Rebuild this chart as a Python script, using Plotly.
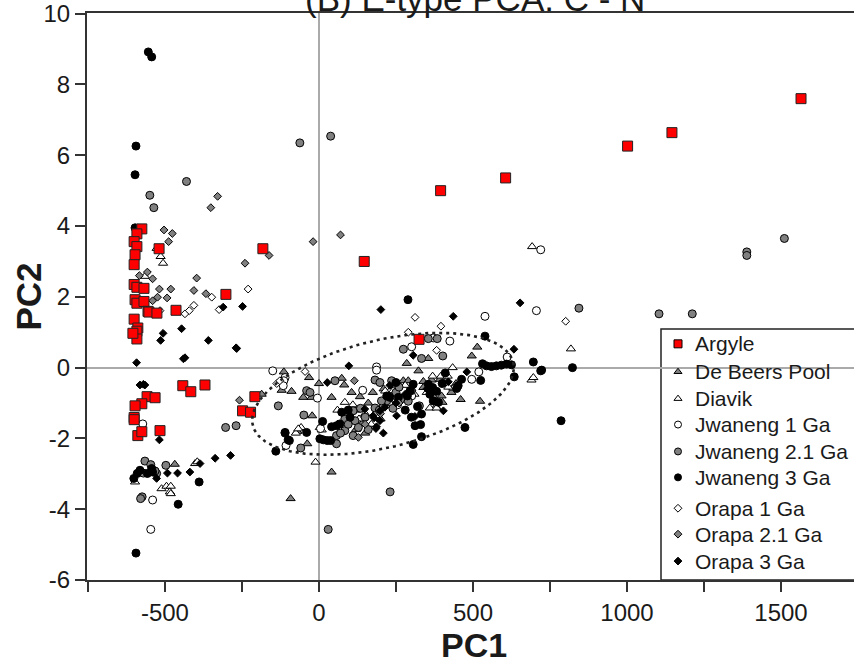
import numpy as np
import plotly.graph_objects as go

# ---------------- data (PC1, PC2) ----------------
ARGYLE = [(-575,3.92),(-591,3.78),(-600,3.56),(-591,3.42),(-597,3.19),(-600,2.91),(-519,3.36),(-182,3.36),
          (-600,2.35),(-591,2.27),(-568,2.24),(-597,1.92),(-591,1.82),(-568,1.87),(-555,1.59),(-552,1.57),
          (-526,1.54),(-464,1.62),(-302,2.07),(-600,1.37),(-588,1.12),(-591,1.03),(-591,0.81),(-604,0.97),
          (-442,-0.51),(-416,-0.68),(-370,-0.49),(-208,-0.82),(-248,-1.22),(-222,-1.26),(-558,-0.82),
          (-532,-0.85),(-575,-1.02),(-597,-1.08),(-600,-1.41),(-600,-1.47),(-588,-1.92),(-575,-1.81),
          (-516,-1.78),(147,3.0),(395,5.0),(606,5.36),(1002,6.26),(1146,6.64),(1565,7.6),(325,0.8)]
DE_BEERS = [(-468,-2.73),(-186,-0.75),(-92,-3.7),(41,-2.95),(514,0.58),(-114,-0.12),(-32,-0.28),(-121,-0.64),
            (-89,-0.67),(0,-0.45),(74,-0.3),(82,-0.49),(41,-0.84),(-51,-0.84),(-24,-0.84),(-22,-1.36),(-38,-2.15),
            (106,-0.7),(133,-0.82),(139,-1.59),(323,-0.09),(355,0.26),(496,0.33),(285,0.12),(523,-0.95),(274,-0.37),
            (290,-0.37),(339,-0.39),(366,-0.35),(393,-0.33),(415,-0.35),(339,-0.56),(371,-0.8),(398,-0.8),(401,-0.98),
            (95,-1.3),(120,-1.2),(160,-1.0),(175,-0.7),(210,-0.6),(240,-0.55),(260,-0.85),(200,-1.45),(150,-1.85),
            (230,-0.95),(300,-0.6),(430,-0.7),(445,-0.45),(460,-0.9),(380,-1.1),(120,-1.75),(60,-1.6),(-70,-1.8),
            (-116,-0.3)]
DIAVIK = [(-527,3.37),(-514,3.14),(-506,2.95),(-565,2.58),(692,3.42),(818,0.53),(690,-0.35),(696,-0.28),(434,0.0),
          (436,-0.58),(-597,-3.23),(-402,-2.71),(-395,-2.66),(-511,-3.42),(-495,-3.35),(-481,-3.35),(-484,-3.51),
          (-481,-3.56),(-11,-2.67),(-58,-1.69),(-75,-1.85),(3,-1.69),(84,-0.98),(230,-0.66),(215,-0.66),(241,-0.65),
          (230,-1.01),(369,-0.24),(396,-0.24),(418,-0.24),(360,-1.14),(382,-1.14),(-67,-1.73),(130,-1.45),(150,-1.3),
          (170,-1.6),(110,-1.05),(280,-0.5),(310,-0.75),(420,-0.55),(350,-0.7),(60,-1.2),(9,-1.76)]
JWANENG_1 = [(706,1.61),(720,3.33),(539,1.45),(371,0.84),(425,0.75),(301,0.59),(611,0.3),(519,-0.12),(496,-0.33),
             (187,0.02),(187,-0.07),(-150,-0.09),(-110,-0.28),(-114,-0.37),(-116,-0.51),(-5,-0.86),(142,-0.64),
             (5,-1.72),(-107,-2.2),(-572,-1.59),(-540,-3.74),(-546,-4.57),(301,-0.8),(255,-1.05)]
JWANENG_21 = [(-62,6.35),(38,6.54),(-430,5.26),(-549,4.87),(-536,4.52),(1389,3.27),(1389,3.17),(1511,3.65),(844,1.68),
              (1104,1.52),(1212,1.52),(355,0.82),(384,0.82),(274,0.52),(402,0.33),(333,0.26),(52,-0.37),(182,-0.35),
              (198,-0.42),(-40,-0.65),(-29,-0.7),(-132,-1.08),(-49,-1.34),(-269,-1.64),(-303,-1.69),(-110,-1.85),
              (-59,-2.27),(57,-1.92),(57,-2.15),(84,-1.45),(84,-1.78),(111,-1.22),(117,-1.5),(128,-1.69),(111,-1.92),
              (182,-1.14),(196,-1.2),(209,-1.08),(220,-0.94),(203,-0.94),(236,-0.37),(326,-1.08),(231,-3.51),(30,-4.57),
              (-565,-2.64),(-546,-2.74),(-583,-2.95),(-570,-2.98),(-527,-2.99),(-532,-2.92),(-497,-2.76),(-574,-3.65),
              (-579,-3.7),(250,-0.7),(265,-0.9),(240,-1.15),(150,-1.4),(160,-1.75),(95,-1.6),(70,-1.85),(135,-1.15),
              (290,-0.95),(300,-0.65),(260,-0.55)]
JWANENG_3 = [(-554,8.92),(-543,8.78),(-594,6.26),(-597,5.45),(-597,3.95),(289,1.92),(539,0.89),(531,0.11),(544,0.05),
             (560,0.03),(576,0.05),(592,0.07),(609,0.1),(625,0.08),(696,0.16),(720,-0.09),(823,0.0),(723,-0.07),
             (786,-1.5),(525,-0.36),(463,-0.33),(452,-0.51),(447,-0.59),(634,-0.26),(474,-1.69),(333,-1.95),(312,-1.64),
             (330,-1.61),(306,-2.17),(250,-0.42),(220,-0.8),(230,-0.84),(306,-0.47),(296,-0.65),(287,-0.8),(355,-0.47),
             (369,-0.56),(360,-0.75),(382,-0.67),(371,-0.94),(388,-0.98),(333,-1.31),(258,-0.84),(12,-1.52),(41,-1.67),
             (57,-1.64),(68,-1.59),(74,-1.26),(95,-1.2),(101,-1.4),(3,-2.01),(14,-2.04),(27,-2.06),(38,-2.06),
             (-40,-1.83),(-96,-2.06),(-100,-2.04),(-140,-2.36),(-110,-1.83),(-581,-2.9),(-590,-2.99),(-601,-3.13),
             (-557,-2.99),(-540,-2.95),(-543,-2.85),(-389,-3.23),(-457,-3.86),(-594,-5.24),(400,-0.45),(410,-0.15),
             (280,-1.2),(300,-1.4),(320,-1.1)]
ORAPA_1 = [(-348,1.99),(-230,2.22),(-516,1.61),(-435,1.52),(-421,1.61),(-406,1.76),(-324,1.64),(801,1.31),(312,1.42),
           (396,1.17),(290,1.0),(382,0.49),(-137,-0.45),(-127,-0.37),(-45,-0.11)]
ORAPA_21 = [(-19,3.56),(70,3.75),(-329,4.84),(-351,4.52),(-503,3.89),(-476,3.79),(-488,3.56),(-162,3.17),(-240,2.95),
            (-583,2.6),(-557,2.7),(-540,2.51),(-397,2.53),(-518,2.22),(-481,2.22),(-524,1.99),(-493,1.97),(-540,1.89),
            (-406,2.18),(-367,2.09),(-258,-0.92),(115,-0.37),(128,-1.97),(150,-1.6),(200,-1.3),(260,-1.0)]
ORAPA_3 = [(-248,1.73),(201,1.64),(653,1.83),(436,1.45),(-269,0.56),(306,0.35),(633,0.52),(480,-0.12),(97,0.05),
           (27,-0.42),(149,-1.17),(187,-1.67),(209,-1.85),(252,-1.36),(176,-1.36),(198,-1.5),(185,-1.72),(179,-1.42),
           (198,-1.22),(214,-1.12),(312,-1.38),(404,-1.22),(-311,1.71),(-446,1.1),(-506,0.97),(-514,0.77),(-359,0.77),
           (-267,0.54),(-440,0.25),(-435,0.28),(-592,0.14),(-581,-0.49),(-570,-0.47),(-565,-0.49),(-518,-2.04),
           (-337,-2.56),(-287,-2.48),(-386,-2.71),(-419,-2.95),(-492,-2.98),(-459,-2.98),(-527,-3.13),(230,-0.5),
           (280,-0.75),(350,-0.6),(420,-0.4),(250,-1.0)]

SERIES_NAMES = ["Argyle", "De Beers Pool", "Diavik", "Jwaneng 1 Ga", "Jwaneng 2.1 Ga", "Jwaneng 3 Ga",
                "Orapa 1 Ga", "Orapa 2.1 Ga", "Orapa 3 Ga"]
SERIES_DATA = [ARGYLE, DE_BEERS, DIAVIK, JWANENG_1, JWANENG_21, JWANENG_3, ORAPA_1, ORAPA_21, ORAPA_3]

# confidence ellipse: centre and conjugate half-axes (data units)
ELL_CENTER = (208, -0.74)
ELL_U = (422.7, 0.891)
ELL_V = (41.5, -1.474)

X_TICKS = [-750, -500, -250, 0, 250, 500, 750, 1000, 1250, 1500]
X_TICK_TEXT = ["", "-500", "", "0", "", "500", "", "1000", "", "1500"]
Y_TICKS = [-6, -4, -2, 0, 2, 4, 6, 8, 10]
Y_TICK_TEXT = ["-6", "-4", "-2", "0", "2", "4", "6", "8", "10"]

# ---------------- styles ----------------
STYLE = {
    "Argyle": dict(symbol="square", color="#ff0000", size=10, lsize=8),
    "De Beers Pool": dict(symbol="triangle-up", color="#808080", size=8, lsize=7),
    "Diavik": dict(symbol="triangle-up", color="#ffffff", size=8, lsize=7),
    "Jwaneng 1 Ga": dict(symbol="circle", color="#ffffff", size=8, lsize=7),
    "Jwaneng 2.1 Ga": dict(symbol="circle", color="#808080", size=8, lsize=7),
    "Jwaneng 3 Ga": dict(symbol="circle", color="#000000", size=8, lsize=7),
    "Orapa 1 Ga": dict(symbol="diamond", color="#ffffff", size=6, lsize=6),
    "Orapa 2.1 Ga": dict(symbol="diamond", color="#808080", size=6, lsize=6),
    "Orapa 3 Ga": dict(symbol="diamond", color="#000000", size=6, lsize=6),
}
FONT = "Liberation Sans, Arial, sans-serif"
TXT = "#1a1a1a"

L, T, B = 87, 11, 92
W, H = 854, 672
plot_w = W - L
plot_h = H - T - B

def px_to_paper_x(px):
    return (px - L) / plot_w

def px_to_paper_y(py):
    return (H - B - py) / plot_h

# legend layout (pixel positions of the hand-built legend)
LEG_BOX_LEFT, LEG_BOX_TOP = 661, 328
LEG_MARK_X, LEG_TEXT_X = 678, 693
LEG_ROWS_Y = [343, 371, 398, 424, 451, 477, 508, 534, 561]

fig = go.Figure()

draw_order = list(range(1, len(SERIES_NAMES))) + [0]
for i in draw_order:
    name = SERIES_NAMES[i]
    pts = SERIES_DATA[i]
    st = STYLE[name]
    fig.add_trace(go.Scatter(
        x=[p[0] for p in pts], y=[p[1] for p in pts], mode="markers", name=name,
        showlegend=False, hoverinfo="x+y+name",
        marker=dict(symbol=st["symbol"], color=st["color"], size=st["size"],
                    line=dict(color="#222222" if name == "Argyle" else "#000000", width=1)),
    ))

# ellipse
t = np.linspace(0, 2 * np.pi, 300)
ex = ELL_CENTER[0] + ELL_U[0] * np.cos(t) + ELL_V[0] * np.sin(t)
ey = ELL_CENTER[1] + ELL_U[1] * np.cos(t) + ELL_V[1] * np.sin(t)
fig.add_trace(go.Scatter(x=ex, y=ey, mode="lines", showlegend=False, hoverinfo="skip",
                         line=dict(color="#222222", width=2.6, dash="3px,4px")))

# legend symbols on an overlay axis measured in layout pixels
for name, ly in zip(SERIES_NAMES, LEG_ROWS_Y):
    st = STYLE[name]
    fig.add_trace(go.Scatter(
        x=[LEG_MARK_X], y=[ly], xaxis="x2", yaxis="y2", mode="markers", showlegend=False,
        hoverinfo="skip",
        marker=dict(symbol=st["symbol"], color=st["color"], size=st["lsize"],
                    line=dict(color="#000000", width=1)),
    ))

annotations = [
    dict(text="(B) E-type PCA: C - N", xref="paper", yref="paper", x=px_to_paper_x(475), y=1,
         xanchor="center", yanchor="bottom", yshift=-7, showarrow=False,
         font=dict(size=35, family=FONT, color=TXT)),
    dict(text="<b>PC1</b>", xref="paper", yref="paper", x=px_to_paper_x(474), y=px_to_paper_y(645),
         xanchor="center", yanchor="middle", showarrow=False,
         font=dict(size=34, family=FONT, color=TXT)),
    dict(text="<b>PC2</b>", xref="paper", yref="paper", x=px_to_paper_x(28), y=0.5,
         xanchor="center", yanchor="middle", textangle=-90, showarrow=False,
         font=dict(size=35, family=FONT, color=TXT)),
]
for name, ly in zip(SERIES_NAMES, LEG_ROWS_Y):
    annotations.append(dict(text=name, xref="paper", yref="paper", x=px_to_paper_x(LEG_TEXT_X),
                            y=px_to_paper_y(ly), xanchor="left", yanchor="middle", showarrow=False,
                            font=dict(size=21, family=FONT, color=TXT)))

fig.update_layout(
    width=W, height=H,
    margin=dict(l=L, r=0, t=T, b=B, pad=0),
    plot_bgcolor="white", paper_bgcolor="white",
    font=dict(family=FONT, color=TXT),
    showlegend=False,
    shapes=[dict(type="rect", xref="paper", yref="paper",
                 x0=px_to_paper_x(LEG_BOX_LEFT), x1=1.2, y0=0, y1=px_to_paper_y(LEG_BOX_TOP),
                 line=dict(color="#222222", width=1.5), fillcolor="white", layer="between")],
    annotations=annotations,
    xaxis=dict(range=[-753, 1737], tickvals=X_TICKS, ticktext=X_TICK_TEXT,
               ticks="outside", ticklen=10, tickwidth=1.5, tickcolor="#333333",
               showline=True, linecolor="#333333", linewidth=2, mirror=True,
               showgrid=False, zeroline=True, zerolinecolor="#aaaaaa", zerolinewidth=2,
               ticklabeloverflow="allow",
               tickfont=dict(size=24, family=FONT, color=TXT)),
    yaxis=dict(range=[-6, 10.02], tickvals=Y_TICKS, ticktext=Y_TICK_TEXT,
               ticks="outside", ticklen=10, tickwidth=1.5, tickcolor="#333333",
               showline=True, linecolor="#333333", linewidth=2, mirror=False,
               showgrid=False, zeroline=True, zerolinecolor="#aaaaaa", zerolinewidth=2,
               ticklabeloverflow="allow",
               tickfont=dict(size=24, family=FONT, color=TXT)),
    xaxis2=dict(overlaying="x", anchor="y2", range=[L, W], visible=False, fixedrange=True),
    yaxis2=dict(overlaying="y", anchor="x2", range=[H - B, T], visible=False, fixedrange=True),
)

fig.write_html("out.html")
